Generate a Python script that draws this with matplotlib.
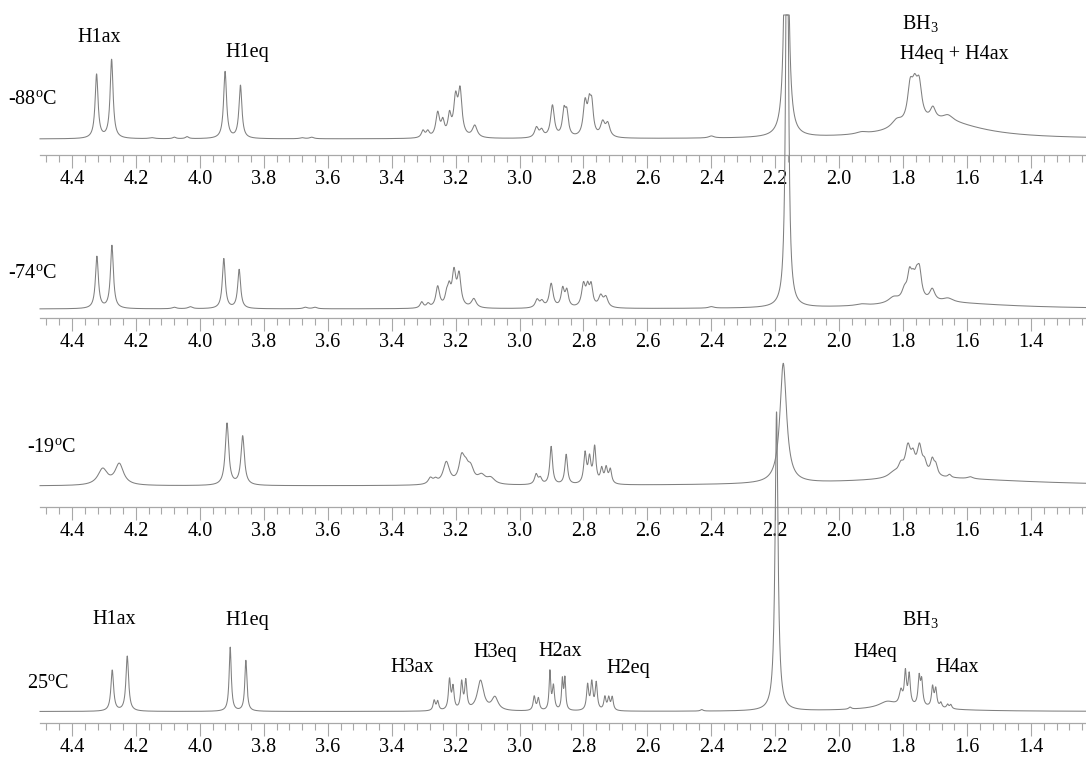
import numpy as np
import matplotlib
matplotlib.use("Agg")
import matplotlib.pyplot as plt
from matplotlib.ticker import MultipleLocator, FormatStrFormatter

plt.rcParams['font.family'] = ['Liberation Serif', 'DejaVu Serif']
plt.rcParams['mathtext.fontset'] = 'custom'
plt.rcParams['mathtext.rm'] = 'Liberation Serif'
plt.rcParams['mathtext.it'] = 'Liberation Serif:italic'

# peak lists: shift (ppm), height (a.u.), half width (ppm)
temps = ['-88', '-74', '-19', '25']

pos_88 = [4.323, 4.276, 4.15, 4.08, 4.04, 3.921, 3.873, 3.68, 3.65,
          3.302, 3.287, 3.256, 3.240, 3.219, 3.200, 3.186, 3.140,
          2.947, 2.931, 2.897, 2.861, 2.852, 2.795, 2.782, 2.774, 2.740, 2.724,
          2.40, 2.165,
          1.93, 1.82, 1.778, 1.764, 1.750, 1.707, 1.66, 1.68]
hgt_88 = [64, 79, 1, 1.5, 2, 67, 53, 1, 1.5,
          7, 6, 24, 14, 20, 36, 44, 12,
          10, 7, 32, 24, 22, 33, 26, 28, 14, 13,
          2, 400,
          2, 8, 34, 28, 34, 12, 6, 17]
wid_88 = [0.0055, 0.0055, 0.01, 0.006, 0.006, 0.0055, 0.0055, 0.008, 0.008,
          0.006, 0.006, 0.007, 0.006, 0.006, 0.007, 0.007, 0.009,
          0.007, 0.007, 0.007, 0.006, 0.006, 0.007, 0.006, 0.006, 0.008, 0.008,
          0.01, 0.006,
          0.02, 0.02, 0.01, 0.01, 0.01, 0.01, 0.02, 0.15]

pos_74 = [4.322, 4.275, 4.08, 4.03, 3.925, 3.877, 3.67, 3.64,
          3.306, 3.286, 3.256, 3.228, 3.220, 3.205, 3.189, 3.143,
          2.945, 2.930, 2.901, 2.865, 2.852, 2.800, 2.787, 2.776, 2.746, 2.730,
          2.40, 2.163,
          1.93, 1.83, 1.796, 1.780, 1.769, 1.758, 1.749, 1.709, 1.66, 1.68]
hgt_74 = [52, 63, 1.5, 2, 50, 39, 1.5, 1.5,
          6, 4, 21, 10, 16, 33, 31, 9,
          8, 6, 24, 18, 16, 22, 17, 20, 11, 10,
          1.5, 500,
          1.5, 6, 10, 24, 15, 17, 26, 12, 4, 6]
wid_74 = [0.0055, 0.0055, 0.008, 0.008, 0.0055, 0.0055, 0.008, 0.008,
          0.006, 0.006, 0.007, 0.006, 0.006, 0.007, 0.007, 0.009,
          0.007, 0.007, 0.007, 0.006, 0.006, 0.007, 0.006, 0.006, 0.008, 0.008,
          0.01, 0.0046,
          0.02, 0.02, 0.01, 0.008, 0.008, 0.008, 0.008, 0.01, 0.02, 0.25]

pos_19 = [4.304, 4.252, 3.915, 3.866,
          3.279, 3.263, 3.229, 3.181, 3.168, 3.153, 3.119, 3.090,
          2.948, 2.935, 2.901, 2.854, 2.795, 2.781, 2.765, 2.743, 2.729, 2.716,
          2.175,
          1.83, 1.807, 1.785, 1.769, 1.749, 1.733, 1.709, 1.698, 1.655, 1.59, 1.70]
hgt_19 = [16, 21, 62, 49,
          6, 4, 22, 24, 12, 14, 8, 6,
          10, 6, 38, 30, 30, 24, 36, 14, 15, 14,
          120,
          5, 10, 28, 16, 28, 11, 15, 10, 3, 2, 7.5]
wid_19 = [0.018, 0.016, 0.0065, 0.0065,
          0.008, 0.008, 0.012, 0.01, 0.01, 0.012, 0.015, 0.015,
          0.006, 0.006, 0.005, 0.005, 0.005, 0.005, 0.005, 0.005, 0.005, 0.005,
          0.0125,
          0.02, 0.01, 0.01, 0.008, 0.009, 0.008, 0.007, 0.007, 0.006, 0.01, 0.35]

pos_25 = [4.274, 4.227, 3.905, 3.856,
          3.267, 3.256, 3.219, 3.208, 3.181, 3.168, 3.122, 3.077,
          2.954, 2.941, 2.905, 2.894, 2.866, 2.858, 2.787, 2.774, 2.760,
          2.733, 2.721, 2.710,
          2.43, 2.196,
          1.966, 1.85, 1.807, 1.793, 1.781, 1.750, 1.742, 1.708, 1.698,
          1.682, 1.661, 1.651, 1.80]
hgt_25 = [41, 55, 64, 51,
          10, 9, 30, 22, 27, 28, 30, 13,
          14, 12, 38, 24, 30, 31, 25, 27, 27,
          13, 12, 13,
          1.5, 300,
          2, 6, 14, 32, 30, 28, 24, 20, 18,
          5, 4, 4, 4]
wid_25 = [0.005, 0.005, 0.004, 0.004,
          0.004, 0.004, 0.004, 0.004, 0.004, 0.004, 0.012, 0.012,
          0.004, 0.004, 0.003, 0.004, 0.003, 0.003, 0.004, 0.004, 0.004,
          0.004, 0.004, 0.004,
          0.005, 0.0055,
          0.005, 0.03, 0.006, 0.004, 0.004, 0.004, 0.004, 0.004, 0.004,
          0.004, 0.004, 0.004, 0.15]

peaks = [(pos_88, hgt_88, wid_88), (pos_74, hgt_74, wid_74),
         (pos_19, hgt_19, wid_19), (pos_25, hgt_25, wid_25)]

# panel geometry in pixels from the top: axis line, baseline, top of axes
W, H = 1086, 757
axis_px = [155, 318, 507, 723]
base_px = [139, 309, 486, 711.5]
top_px = [0, 170, 340, 560]
plot_top = 15   # the plotter cut the tallest peaks flat here
temp_xy = [(8, 100), (8, 273), (27, 447), (27, 683)]

# peak annotations (text, x px, y px)
notes = [
    [('H1ax', 99, 38), ('H1eq', 247, 53),
     ('BH$_3$', 920, 23), ('H4eq + H4ax', 954, 55)],
    [],
    [],
    [('H1ax', 114, 620), ('H1eq', 247, 620), ('H3ax', 412, 668),
     ('H3eq', 495, 652), ('H2ax', 560, 652), ('H2eq', 628, 668),
     ('BH$_3$', 920, 620), ('H4eq', 875, 652), ('H4ax', 957, 668)],
]

ppm = np.linspace(4.5, 1.22, 5000)


def spectrum(x, pos, hgt, wid):
    y = np.zeros_like(x)
    for c, h, g in zip(pos, hgt, wid):
        y += h / (1 + ((x - c) / g) ** 2)
    return y


fig = plt.figure(figsize=(W / 100, H / 100), dpi=100)

for i in range(4):
    b = 1 - axis_px[i] / H
    h = (axis_px[i] - top_px[i]) / H
    ax = fig.add_axes([40 / W, b, 1 - 40 / W, h])
    ax.patch.set_visible(False)
    ax.set_xlim(4.5, 1.228)
    ax.set_ylim(base_px[i] - axis_px[i], base_px[i] - top_px[i])
    y = spectrum(ppm, *peaks[i])
    y = np.minimum(y, base_px[i] - plot_top)
    ax.plot(ppm, y, color='#808080', lw=0.75, clip_on=False)
    for s in ['left', 'right', 'top']:
        ax.spines[s].set_visible(False)
    ax.spines['bottom'].set_color('#a8a8a8')
    ax.spines['bottom'].set_linewidth(0.9)
    ax.set_yticks([])
    ax.xaxis.set_major_locator(MultipleLocator(0.2))
    ax.xaxis.set_minor_locator(MultipleLocator(0.04))
    ax.xaxis.set_major_formatter(FormatStrFormatter('%.1f'))
    ax.tick_params(axis='x', which='major', length=9, width=0.8,
                   color='#a8a8a8', labelsize=14.5, pad=2)
    ax.tick_params(axis='x', which='minor', length=5, width=0.8,
                   color='#a8a8a8')

    tx, ty = temp_xy[i]
    fig.text(tx / W, 1 - ty / H, temps[i] + r'$^{\mathrm{o}}$C',
             fontsize=14.5, ha='left', va='center')
    for txt, x, yy in notes[i]:
        fig.text(x / W, 1 - yy / H, txt, fontsize=14.5,
                 ha='center', va='center')

fig.savefig('out.png', dpi=100)
